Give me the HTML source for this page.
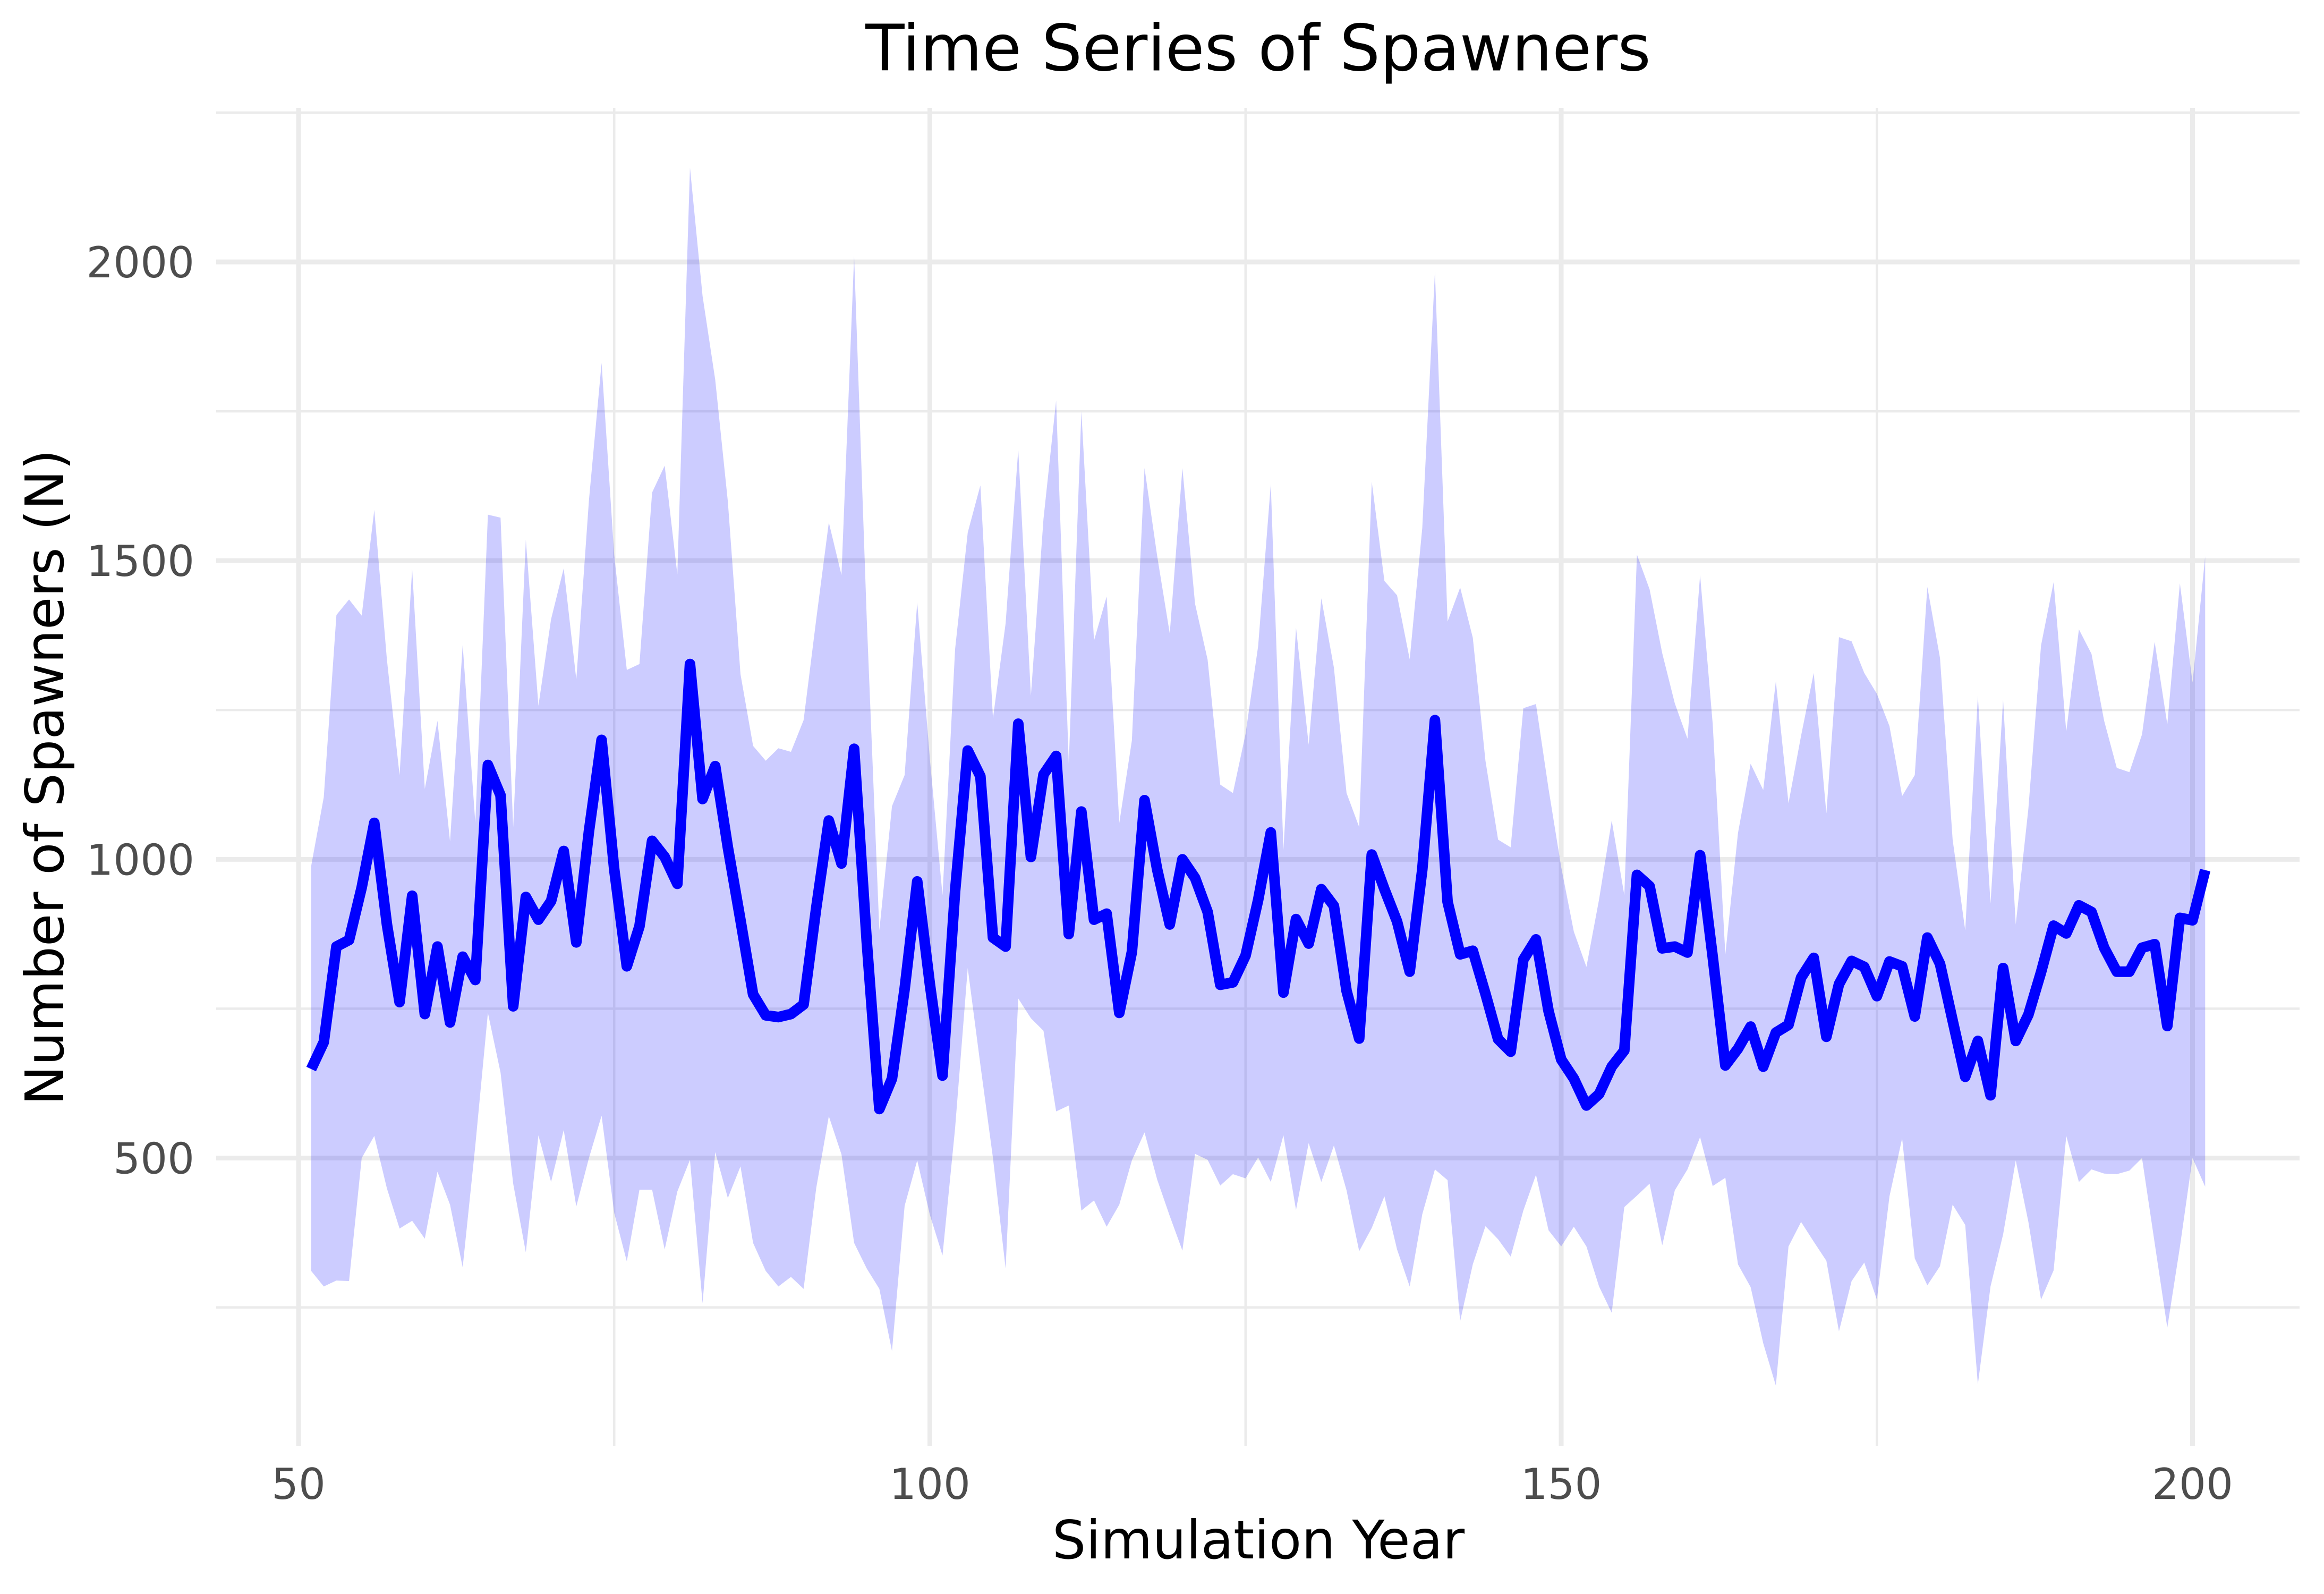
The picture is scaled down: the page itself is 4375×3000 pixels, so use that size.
<!DOCTYPE html>
<html lang="en">
<head>
<meta charset="utf-8">
<title>Time Series of Spawners</title>
<style>
html,body{margin:0;padding:0;background:#fff;width:4375px;height:3000px;overflow:hidden}
svg{display:block}
text{font-family:"DejaVu Sans",sans-serif}
</style>
</head>
<body>
<svg id="chart" xmlns="http://www.w3.org/2000/svg" width="4375" height="3000" viewBox="0 0 4375 3000">
<rect width="4375" height="3000" fill="#ffffff"/>
<g id="grid"></g>
<g id="marks"></g>
<g id="ticks"></g>
<text x="2368.5" y="132.5" text-anchor="middle" font-size="120" fill="#000">Time Series of Spawners</text>
<text x="2369" y="2933" text-anchor="middle" font-size="100" fill="#000">Simulation Year</text>
<text transform="translate(119,1463) rotate(-90)" text-anchor="middle" font-size="100" fill="#000">Number of Spawners (N)</text>
</svg>
<script>
const years = [51,52,53,54,55,56,57,58,59,60,61,62,63,64,65,66,67,68,69,70,71,72,73,74,75,76,77,78,79,80,81,82,83,84,85,86,87,88,89,90,91,92,93,94,95,96,97,98,99,100,101,102,103,104,105,106,107,108,109,110,111,112,113,114,115,116,117,118,119,120,121,122,123,124,125,126,127,128,129,130,131,132,133,134,135,136,137,138,139,140,141,142,143,144,145,146,147,148,149,150,151,152,153,154,155,156,157,158,159,160,161,162,163,164,165,166,167,168,169,170,171,172,173,174,175,176,177,178,179,180,181,182,183,184,185,186,187,188,189,190,191,192,193,194,195,196,197,198,199,200,201];
const meanSpawners = [649,694,854,865,953,1061,891,761,939,741,854,727,837,798,1158,1107,754,937,899,930,1014,861,
1047,1200,983,821,888,1031,1004,959,1327,1101,1156,1020,898,774,739,736,741,757,919,1065,993,1185,862,582,633,783,963,791,638,947,
1182,1139,869,854,1227,1004,1142,1173,875,1080,899,909,743,845,1099,983,891,1000,969,912,790,794,839,932,1045,777,900,859,950,
922,780,700,1008,950,896,812,983,1233,929,841,847,775,699,678,832,866,746,665,633,588,607,653,680,974,955,851,854,844,1007,
837,655,683,720,653,710,723,802,835,703,791,830,820,771,829,821,737,869,825,730,636,696,605,818,696,740,811,889,876,923,912,852,812,812,852,858,721,902,898,982];
const upperBound = [989,1104,1409,1435,1408,1585,1334,1141,1486,1118,1232,1030,1359,1061,1577,1572,1054,1535,1257,1402,1487,1301,
1601,1831,1509,1317,1327,1614,1659,1477,2158,1943,1803,1599,1310,1190,1165,1186,1180,1233,1402,1564,1476,2010,1402,881,1089,1141,1430,1168,940,1352,
1547,1626,1236,1395,1686,1274,1570,1768,1160,1750,1366,1440,1061,1199,1655,1508,1378,1655,1428,1334,1125,1111,1210,1357,1628,1016,1388,1192,1437,
1321,1111,1054,1632,1466,1442,1335,1555,1984,1398,1455,1371,1165,1033,1020,1253,1260,1118,987,879,820,933,1065,940,1510,1452,1345,1261,1202,1476,
1227,841,1044,1160,1116,1298,1094,1207,1312,1077,1372,1365,1312,1277,1223,1106,1141,1456,1337,1033,881,1274,926,1267,891,1085,1358,1464,1214,1385,1344,1232,1153,1146,1209,1364,1226,1462,1296,1507];
const lowerBound = [311,285,295,294,500,537,449,382,395,365,477,422,317,521,743,643,457,342,538,460,547,419,
500,571,408,327,447,447,347,444,497,257,510,433,486,358,311,285,301,281,450,570,506,358,315,281,177,420,496,405,337,550,
818,656,500,315,767,734,713,578,588,412,429,385,422,496,543,464,403,345,507,497,454,473,466,501,460,538,413,525,460,
521,446,344,383,436,347,285,406,481,463,227,322,386,364,335,412,472,379,352,385,352,285,241,418,437,457,354,446,481,535,
453,467,322,284,190,119,352,393,360,328,210,294,325,263,436,533,332,287,319,422,388,121,285,372,496,393,263,312,537,460,481,474,473,479,500,358,216,351,500,452];
const xMajorTicks = [50,100,150,200];
const xMinorTicks = [75,125,175];
const yMajorTicks = [500,1000,1500,2000];
const yMinorTicks = [250,750,1250,1750,2250];

const SVG_NS = 'http://www.w3.org/2000/svg';
const panel = {left: 407, right: 4329, top: 203, bottom: 2721};
function xScale(v){ return 562 + (v - 50) * (4127.5 - 562) / 150; }
function yScale(v){ return 493 + (2000 - v) * (2179.5 - 493) / 1500; }

const grid = document.getElementById('grid');
const marks = document.getElementById('marks');
const ticks = document.getElementById('ticks');

function gridLine(x1, y1, x2, y2, w){
  const el = document.createElementNS(SVG_NS, 'line');
  el.setAttribute('x1', x1);
  el.setAttribute('y1', y1);
  el.setAttribute('x2', x2);
  el.setAttribute('y2', y2);
  el.setAttribute('stroke', '#ebebeb');
  el.setAttribute('stroke-width', w);
  grid.appendChild(el);
  return el;
}
yMinorTicks.forEach(function(v){
  const el = gridLine(panel.left, yScale(v), panel.right, yScale(v), 4.5);
  
  
});
xMinorTicks.forEach(function(v){
  const el = gridLine(xScale(v), panel.top, xScale(v), panel.bottom, 4.5);
  
  
});
yMajorTicks.forEach(function(v){
  const el = gridLine(panel.left, yScale(v), panel.right, yScale(v), 9);
  
  
});
xMajorTicks.forEach(function(v){
  const el = gridLine(xScale(v), panel.top, xScale(v), panel.bottom, 9);
  
  
});

let ribbonD = '';
years.forEach(function(yr, i){
  ribbonD += (i === 0 ? 'M' : 'L') + xScale(yr).toFixed(1) + ' ' + yScale(upperBound[i]).toFixed(1);
});
for (let i = years.length - 1; i >= 0; i--) {
  ribbonD += 'L' + xScale(years[i]).toFixed(1) + ' ' + yScale(lowerBound[i]).toFixed(1);
}
ribbonD += 'Z';
const ribbon = document.createElementNS(SVG_NS, 'path');


ribbon.setAttribute('d', ribbonD);
ribbon.setAttribute('fill', '#0000ff');
ribbon.setAttribute('fill-opacity', '0.2');
marks.appendChild(ribbon);

let lineD = '';
years.forEach(function(yr, i){
  lineD += (i === 0 ? 'M' : 'L') + xScale(yr).toFixed(1) + ' ' + yScale(meanSpawners[i]).toFixed(1);
});
const meanLine = document.createElementNS(SVG_NS, 'path');


meanLine.setAttribute('d', lineD);
meanLine.setAttribute('fill', 'none');
meanLine.setAttribute('stroke', '#0000ff');
meanLine.setAttribute('stroke-width', '20');
meanLine.setAttribute('stroke-linejoin', 'round');
meanLine.setAttribute('stroke-linecap', 'butt');
marks.appendChild(meanLine);

xMajorTicks.forEach(function(v){
  const t = document.createElementNS(SVG_NS, 'text');
  
  
  t.setAttribute('x', xScale(v));
  t.setAttribute('y', 2821);
  t.setAttribute('text-anchor', 'middle');
  t.setAttribute('font-size', '80');
  t.setAttribute('fill', '#4d4d4d');
  t.textContent = String(v);
  ticks.appendChild(t);
});
yMajorTicks.forEach(function(v){
  const t = document.createElementNS(SVG_NS, 'text');
  
  
  t.setAttribute('x', 366);
  t.setAttribute('y', yScale(v) + 29);
  t.setAttribute('text-anchor', 'end');
  t.setAttribute('font-size', '80');
  t.setAttribute('fill', '#4d4d4d');
  t.textContent = String(v);
  ticks.appendChild(t);
});
</script>
</body>
</html>
